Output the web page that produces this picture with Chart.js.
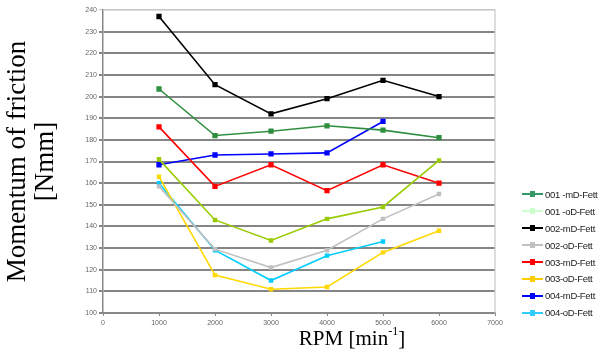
<!DOCTYPE html>
<html>
<head>
<meta charset="utf-8">
<script src="https://cdn.jsdelivr.net/npm/chart.js@4/dist/chart.umd.min.js"></script>
<style>
  html, body { margin:0; padding:0; background:#fff; }
  #wrap { position:relative; width:608px; height:352px; }
  #c { position:absolute; left:0; top:0; }
  #xtitle { position:absolute; left:252px; width:200px; top:326px; text-align:center;
            font-family:'Liberation Serif','Times New Roman',serif; font-size:21px; color:#000; white-space:nowrap; }
  #xtitle sup { font-size:12px; position:relative; top:-2px; vertical-align:top; }
  #legend { position:absolute; left:522px; top:186px; font-family:'Liberation Sans',Arial,sans-serif;
            font-size:9.5px; color:#222; }
  .li { height:16.9px; display:flex; align-items:center; white-space:nowrap; letter-spacing:-0.3px; }
  .sw { position:relative; width:21px; height:2px; margin-right:2px; }
  .sw i { position:absolute; left:8px; top:-2px; width:5px; height:6px; }
</style>
</head>
<body>
<div id="wrap">
  <canvas id="c" width="608" height="352"></canvas>
  <div id="xtitle">RPM [min<sup>-1</sup>]</div>
  <div id="legend"></div>
</div>
<script>
// ── DATOS ──
var rpm = [1000, 2000, 3000, 4000, 5000, 6000];
var serieNombres = ['001 -mD-Fett','001 -oD-Fett','002-mD-Fett','002-oD-Fett','003-mD-Fett','003-oD-Fett','004-mD-Fett','004-oD-Fett'];
var mD001 = [203.5, 182, 184, 186.5, 184.5, 181];
var oD001 = [171, 143, 133.5, 143.5, 149, 170.5];
var mD002 = [237, 205.5, 192, 199, 207.5, 200];
var oD002 = [158.5, 129.5, 121, 129, 143.5, 155];
var mD003 = [186, 158.5, 168.5, 156.5, 168.5, 160];
var oD003 = [163, 117.5, 111, 112, 128, 138];
var mD004 = [168.5, 173, 173.5, 174, 188.5];
var oD004 = [160, 129, 115, 126.5, 133];
var yTicks = [100, 110, 120, 130, 140, 150, 160, 170, 180, 190, 200, 210, 220, 230, 240];
var xTicks = [0, 1000, 2000, 3000, 4000, 5000, 6000, 7000];

var valores = [mD001, oD001, mD002, oD002, mD003, oD003, mD004, oD004];
var colLinea = ['#2f8f3f','#99cc00','#000000','#c0c0c0','#ff0000','#ffd800','#0000ff','#00ccff'];
var colLeyenda = ['#339966','#ccffcc','#000000','#c0c0c0','#ff0000','#ffcc00','#0000ff','#33ccff'];

function puntos(arr) {
  return arr.map(function(v, i) { return {x: rpm[i], y: v}; });
}

var datasets = valores.map(function(arr, i) {
  var mD = i % 2 === 0;
  return {
    label: serieNombres[i],
    data: puntos(arr),
    borderColor: colLinea[i],
    backgroundColor: colLinea[i],
    borderWidth: 1.6,
    pointStyle: 'rect',
    pointRadius: mD ? 2.6 : 2,
    pointHoverRadius: 3,
    tension: 0
  };
});

// marco claro arriba/derecha
var marco = {
  id: 'marco',
  afterDraw: function(chart) {
    var a = chart.chartArea, ctx = chart.ctx;
    ctx.save();
    ctx.strokeStyle = '#c8c8c8';
    ctx.lineWidth = 1.2;
    ctx.beginPath();
    ctx.moveTo(a.left, a.top); ctx.lineTo(a.right, a.top); ctx.lineTo(a.right, a.bottom);
    ctx.stroke();
    ctx.restore();
  }
};

new Chart(document.getElementById('c'), {
  type: 'line',
  data: { datasets: datasets },
  options: {
    responsive: false,
    animation: false,
    layout: { padding: { left: 0, right: 113, top: 10, bottom: 0 } },
    plugins: { legend: { display: false }, tooltip: { enabled: false } },
    scales: {
      x: {
        type: 'linear', min: 0, max: 7000,
        afterBuildTicks: function(s) { s.ticks = xTicks.map(function(v){ return {value: v}; }); },
        afterFit: function(s) { s.height = 39; },
        ticks: { color: '#666', font: { size: 7, family: 'Liberation Sans, Arial' }, padding: 3, maxRotation: 0, autoSkip: false,
                 callback: function(v) { return String(v); } },
        grid: { drawOnChartArea: false, drawTicks: true, tickLength: 3, color: '#888' },
        border: { color: '#888', width: 1.5 }
      },
      y: {
        min: 100, max: 240,
        afterBuildTicks: function(s) { s.ticks = yTicks.map(function(v){ return {value: v}; }); },
        afterFit: function(s) { s.width = 103; },
        ticks: { color: '#666', font: { size: 7, family: 'Liberation Sans, Arial' }, padding: 2, autoSkip: false },
        grid: {
          color: function(c) { return c.tick && c.tick.value === 240 ? '#c8c8c8' : '#858585'; },
          lineWidth: function(c) { return c.tick && c.tick.value === 240 ? 1.2 : 2; },
          tickLength: 4
        },
        border: { color: '#888', width: 1.5 },
        title: {
          display: true,
          text: ['Momentum of friction', '[Nmm]'],
          color: '#000',
          font: { family: 'Liberation Serif, Times New Roman, serif', size: 27, lineHeight: 1.04 },
          padding: { top: 4, bottom: 0 }
        }
      }
    }
  },
  plugins: [marco]
});

// leyenda
var leg = document.getElementById('legend');
serieNombres.forEach(function(n, i) {
  var row = document.createElement('div');
  row.className = 'li';
  row.innerHTML = '<span class="sw" style="background:' + colLeyenda[i] + '"><i style="background:' + colLeyenda[i] + '"></i></span><span>' + n + '</span>';
  leg.appendChild(row);
});
</script>
</body>
</html>
